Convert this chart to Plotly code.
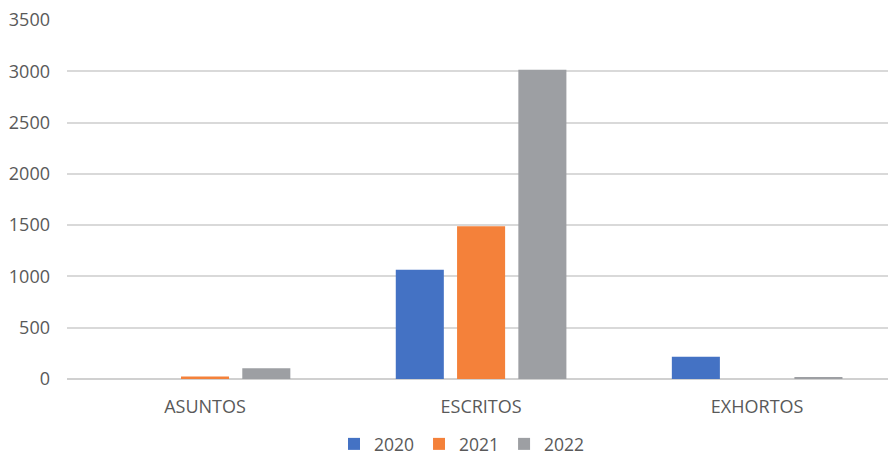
import plotly.graph_objects as go

categories = ["ASUNTOS", "ESCRITOS", "EXHORTOS"]
years = ["2020", "2021", "2022"]
values_2020 = [0, 1065, 218]
values_2021 = [25, 1490, 0]
values_2022 = [105, 3015, 12]
y_ticks = [0, 500, 1000, 1500, 2000, 2500, 3000, 3500]

colors = ["#4472C4", "#F4813A", "#9D9FA3"]
series = [values_2020, values_2021, values_2022]

fig = go.Figure()
for name, vals, col in zip(years, series, colors):
    fig.add_trace(go.Bar(x=categories, y=vals, name=name, marker_color=col,
                         marker_line_width=0))

font_family = "Open Sans, Noto Sans, sans-serif"
fig.update_layout(
    width=888, height=455,
    margin=dict(l=67, r=0, t=20, b=76, autoexpand=False),
    paper_bgcolor="white", plot_bgcolor="white",
    barmode="group", bargap=0.334, bargroupgap=0.216,
    font=dict(family=font_family, size=17, color="#595959"),
    showlegend=True,
    legend=dict(orientation="h", x=462 / 888, xanchor="center", xref="container",
                y=1 - 444 / 455, yanchor="middle", yref="container",
                font=dict(size=17.5, color="#595959"),
                tracegroupgap=0, traceorder="normal"),
    xaxis=dict(range=[-0.5, 2.474], showgrid=False, showline=False, ticks="",
               automargin=False,
               tickfont=dict(size=18, color="#595959"), ticklabelstandoff=15),
    yaxis=dict(range=[0, 3500], tickvals=y_ticks, showgrid=True, gridcolor="#D9D9D9",
               gridwidth=1.5, zeroline=True, zerolinecolor="#D0D0D0", zerolinewidth=2,
               showline=False, ticks="", automargin=False,
               tickfont=dict(size=18, color="#595959"),
               ticklabelstandoff=16),
)

fig.write_html("out.html")
